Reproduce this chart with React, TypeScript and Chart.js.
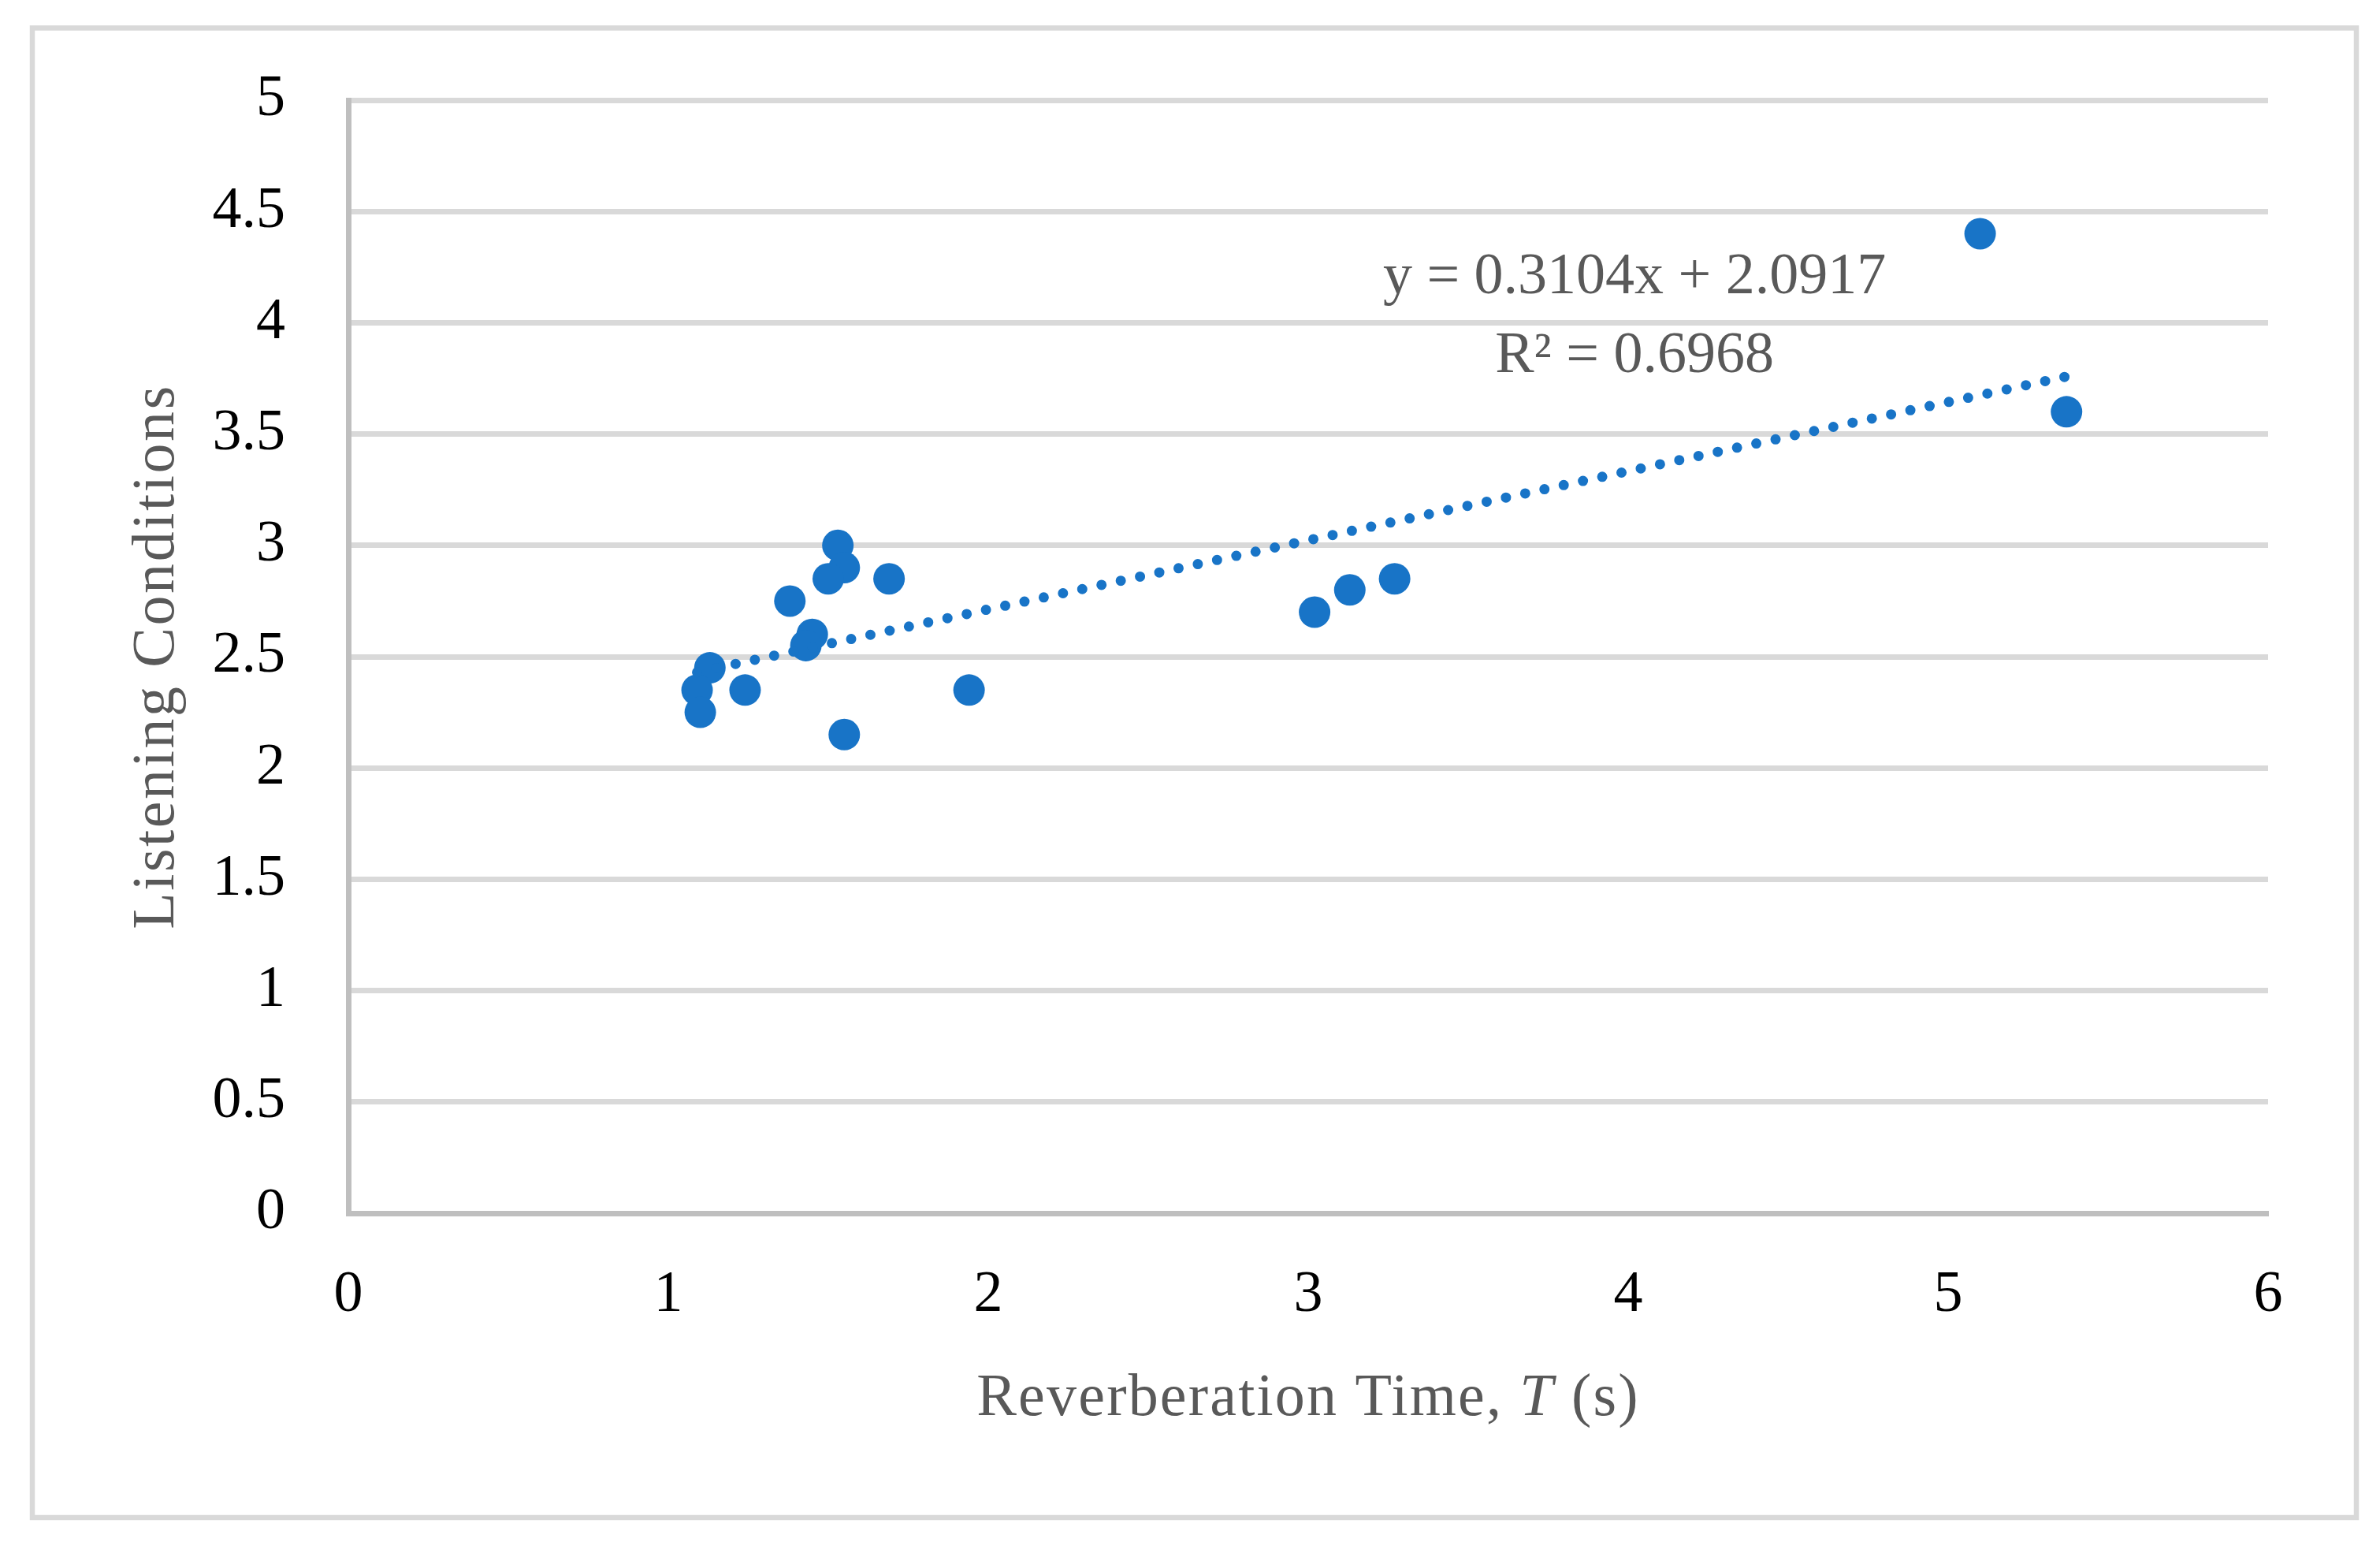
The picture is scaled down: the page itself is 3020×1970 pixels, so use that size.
import React, { useEffect, useRef } from 'react';
import { Chart, registerables } from 'chart.js';

Chart.register(...registerables);

// ---- Data ----
const reverberationTime = [1.53, 1.55, 1.5, 1.69, 1.38, 1.45, 1.43, 1.13, 1.09, 1.24, 1.1, 1.55, 1.94, 3.02, 3.13, 3.27, 5.1, 5.37];
const listeningConditions = [3.0, 2.9, 2.85, 2.85, 2.75, 2.6, 2.55, 2.45, 2.35, 2.35, 2.25, 2.15, 2.35, 2.7, 2.8, 2.85, 4.4, 3.6];
const xTickValues = [0, 1, 2, 3, 4, 5, 6];
const yTickValues = [0, 0.5, 1, 1.5, 2, 2.5, 3, 3.5, 4, 4.5, 5];
const trendSlope = 0.3104;
const trendIntercept = 2.0917;
const trendR2 = 0.6968;
const equationLines = [`y = ${trendSlope}x + ${trendIntercept}`, `R² = ${trendR2}`];
const xTitleParts = [
  { text: 'Reverberation Time, ', italic: false },
  { text: 'T', italic: true },
  { text: ' (s)', italic: false },
];
const yTitle = 'Listening Conditions';

const FONT = '"Liberation Serif", "Times New Roman", serif';
const BLUE = '#1874C7';
const TITLE_GRAY = '#595959';

export default function App() {
  const canvasRef = useRef<HTMLCanvasElement | null>(null);

  useEffect(() => {
    document.body.style.margin = '0';
    document.body.style.overflow = 'hidden';
    const canvas = canvasRef.current;
    if (!canvas) return;

    const points = reverberationTime.map((x, i) => ({ x, y: listeningConditions[i] }));
    const xMin = Math.min(...reverberationTime);
    const xMax = Math.max(...reverberationTime);
    const trend = [
      { x: xMin, y: trendSlope * xMin + trendIntercept },
      { x: xMax, y: trendSlope * xMax + trendIntercept },
    ];

    const decor = {
      id: 'decor',
      beforeDraw(chart: any) {
        const ctx = chart.ctx;
        ctx.save();
        ctx.fillStyle = '#ffffff';
        ctx.fillRect(0, 0, chart.width, chart.height);
        ctx.strokeStyle = '#d9d9d9';
        ctx.lineWidth = 6.5;
        ctx.strokeRect(41, 35.5, 2949, 1889.5);
        ctx.restore();
      },
      afterDraw(chart: any) {
        const ctx = chart.ctx;
        const area = chart.chartArea;
        const xs = chart.scales.x;
        const ys = chart.scales.y;
        ctx.save();
        ctx.fillStyle = TITLE_GRAY;
        ctx.textBaseline = 'alphabetic';

        // X axis title with italic T
        const titleSize = 76;
        const spacing = '2.2px';
        (ctx as any).letterSpacing = spacing;
        const fonts = xTitleParts.map((p) => `${p.italic ? 'italic ' : ''}${titleSize}px ${FONT}`);
        let total = 0;
        const widths = xTitleParts.map((p, i) => {
          ctx.font = fonts[i];
          const w = ctx.measureText(p.text).width;
          total += w;
          return w;
        });
        let cx = (area.left + area.right) / 2 - total / 2;
        ctx.textAlign = 'left';
        xTitleParts.forEach((p, i) => {
          ctx.font = fonts[i];
          ctx.fillText(p.text, cx, 1795);
          cx += widths[i];
        });

        // Y axis title (rotated)
        ctx.save();
        (ctx as any).letterSpacing = '2.6px';
        ctx.translate(220, (area.top + area.bottom) / 2);
        ctx.rotate(-Math.PI / 2);
        ctx.textAlign = 'center';
        ctx.font = `${titleSize}px ${FONT}`;
        ctx.fillText(yTitle, 0, 0);
        ctx.restore();

        // Trendline equation
        (ctx as any).letterSpacing = '0px';
        ctx.textAlign = 'center';
        ctx.font = `74px ${FONT}`;
        const ex = xs.getPixelForValue(4.02);
        ctx.fillText(equationLines[0], ex, ys.getPixelForValue(4.133));
        ctx.fillText(equationLines[1], ex, ys.getPixelForValue(3.779));
        ctx.restore();
      },
    };

    const chart = new Chart(canvas, {
      type: 'scatter',
      data: {
        datasets: [
          {
            type: 'line',
            label: 'Linear trend',
            data: trend,
            borderColor: BLUE,
            borderWidth: 13,
            borderDash: [0, 25],
            borderCapStyle: 'round',
            pointRadius: 0,
            fill: false,
            order: 0,
          } as any,
          {
            label: 'Listening Conditions',
            data: points,
            backgroundColor: BLUE,
            borderColor: BLUE,
            borderWidth: 0,
            pointRadius: 20,
            pointHoverRadius: 20,
            order: 1,
          },
        ],
      },
      options: {
        animation: false,
        responsive: false,
        devicePixelRatio: 1,
        layout: { padding: { left: 0, top: 127, right: 142, bottom: 0 } },
        plugins: {
          legend: { display: false },
          tooltip: { enabled: false },
        },
        scales: {
          x: {
            type: 'linear',
            min: xTickValues[0],
            max: xTickValues[xTickValues.length - 1],
            afterBuildTicks: (scale: any) => {
              scale.ticks = xTickValues.map((v) => ({ value: v }));
            },
            afterFit: (scale: any) => {
              scale.height = 1970 - 1539;
            },
            grid: { display: false, drawTicks: false },
            border: { display: true, color: '#bfbfbf', width: 7 },
            ticks: {
              color: '#000000',
              padding: 60,
              font: { family: FONT, size: 74 },
              maxRotation: 0,
              callback: (value: any) => String(value),
            },
          },
          y: {
            type: 'linear',
            min: yTickValues[0],
            max: yTickValues[yTickValues.length - 1],
            afterBuildTicks: (scale: any) => {
              scale.ticks = yTickValues.map((v) => ({ value: v }));
            },
            afterFit: (scale: any) => {
              scale.width = 442;
            },
            grid: { display: true, color: '#d9d9d9', lineWidth: 7, drawTicks: false },
            border: { display: true, color: '#bfbfbf', width: 7 },
            ticks: {
              color: '#000000',
              padding: 80,
              font: { family: FONT, size: 74 },
              callback: (value: any) => String(value),
            },
          },
        },
      } as any,
      plugins: [decor],
    });

    return () => chart.destroy();
  }, []);

  return (
    <div style={{ width: 3020, height: 1970, background: '#fff' }}>
      <canvas ref={canvasRef} width={3020} height={1970} style={{ width: 3020, height: 1970, display: 'block' }} />
    </div>
  );
}
